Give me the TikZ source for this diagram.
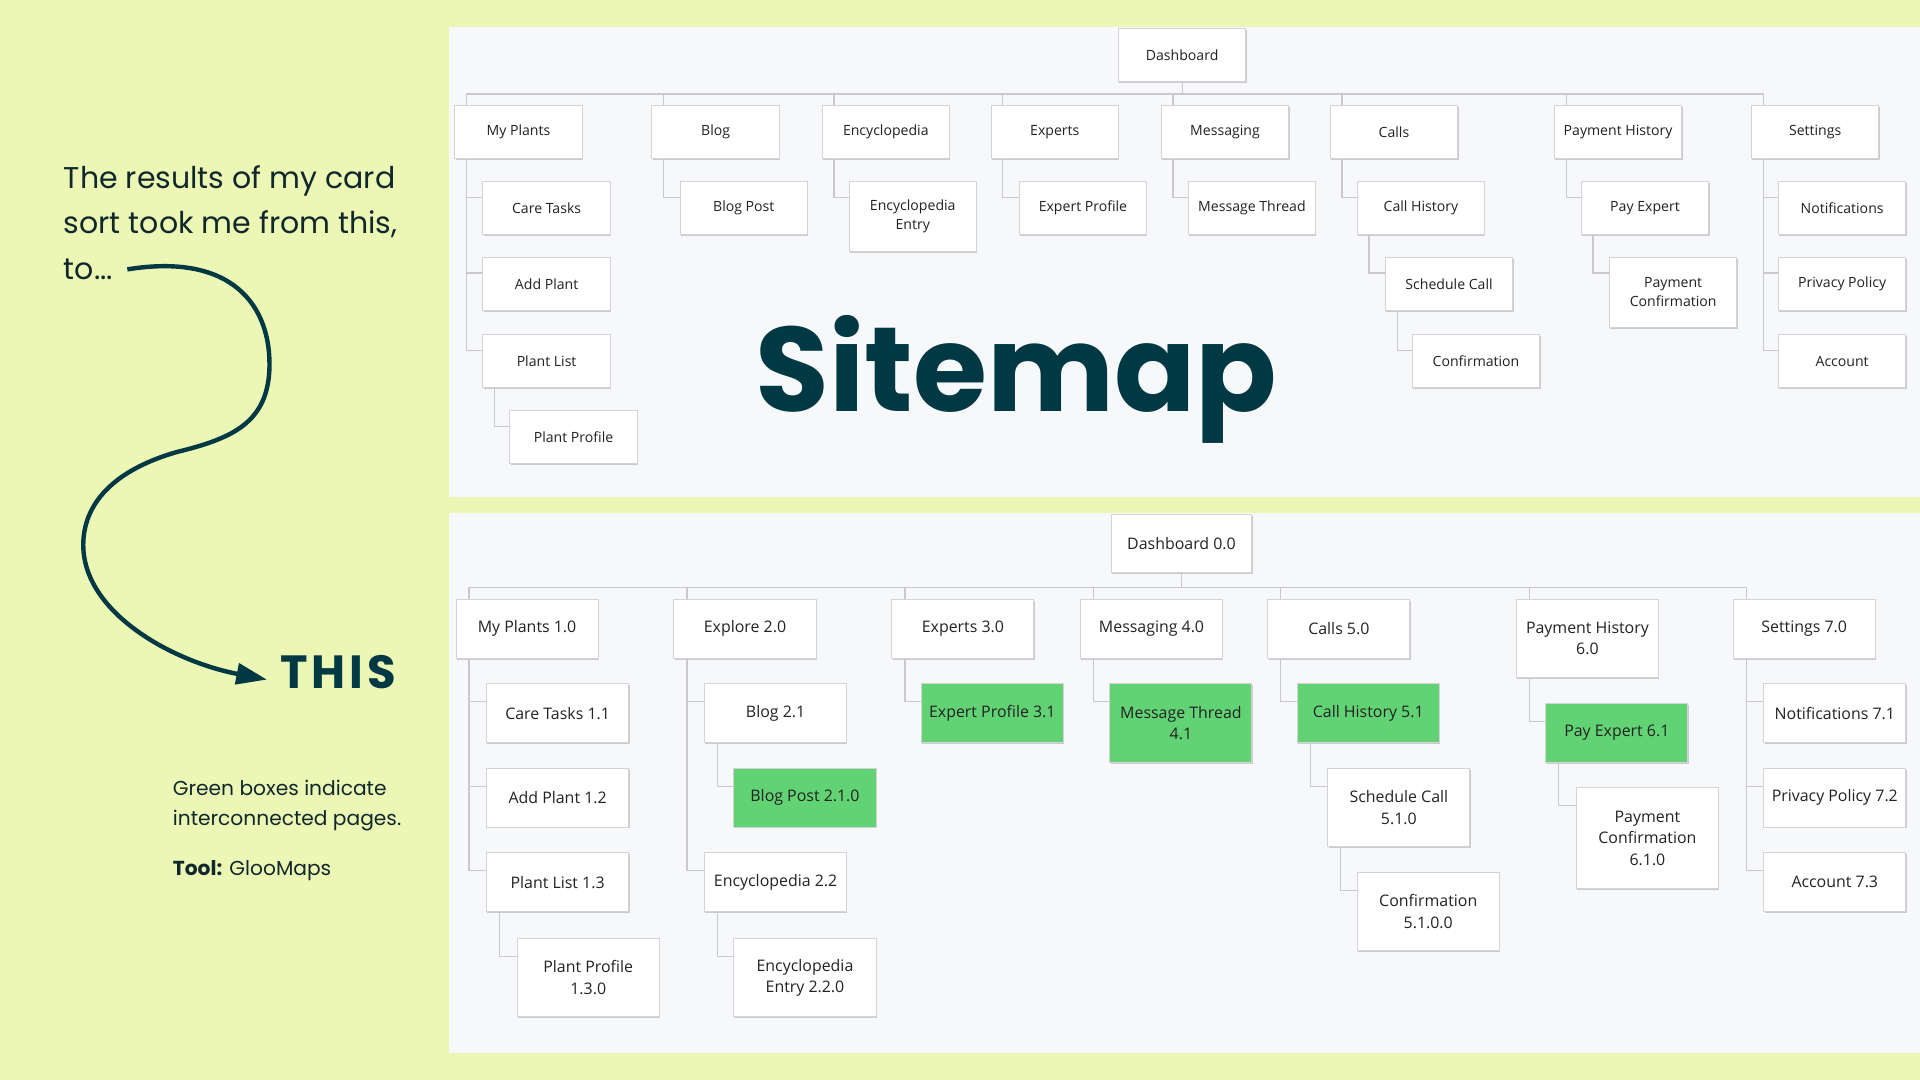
\documentclass[tikz,border=0pt]{standalone}
\usepackage{fontspec}
\setmainfont{Open Sans}
\newfontfamily\pop{Poppins}
\newfontfamily\popsp[LetterSpace=8]{Poppins}
\usetikzlibrary{arrows.meta,shadows}
\definecolor{bgc}{RGB}{236,247,181}
\definecolor{panelc}{RGB}{247,248,250}
\definecolor{linec}{RGB}{200,200,205}
\definecolor{boxc}{RGB}{212,212,216}
\definecolor{greenc}{RGB}{98,211,116}
\definecolor{teal}{RGB}{0,56,68}
\definecolor{darkt}{RGB}{16,40,44}
\definecolor{boxt}{RGB}{34,34,34}
\tikzset{
  boxbase/.style={draw=boxc, fill=white, line width=0.8pt, anchor=north west, inner sep=2pt,
    align=center, text=boxt,
    drop shadow={shadow xshift=0.7pt, shadow yshift=-1.2pt, opacity=0.18, fill=black}},
  tb/.style={boxbase, minimum width=104pt, minimum height=43pt, font=\fontsize{11.5}{15.5}\selectfont},
  tbb/.style={tb, minimum height=57pt},
  bb/.style={boxbase, minimum width=116pt, minimum height=48pt, font=\fontsize{13}{17.5}\selectfont},
  bbb/.style={bb, minimum height=64pt},
  bbc/.style={bb, minimum height=82pt},
  grn/.style={fill=greenc},
  ln/.style={draw=linec, line width=1pt},
  lefttxt/.style={anchor=base west, text=darkt, inner sep=0pt},
}
\begin{document}
\begin{tikzpicture}[x=1pt,y=-1pt]
\fill[bgc] (0,0) rectangle (1568,882);
\useasboundingbox (0,0) rectangle (1568,882);
\fill[panelc] (367,22) rectangle (1568,406);
\fill[panelc] (367,419) rectangle (1568,860);

% ---------- top sitemap ----------
\node[tb] (d) at (913,23) {Dashboard};
\node[tb] (mp) at (371,86) {My Plants};
\node[tb] (bl) at (532,86) {Blog};
\node[tb] (en) at (671,86) {Encyclopedia};
\node[tb] (ex) at (809,86) {Experts};
\node[tb] (me) at (948,86) {Messaging};
\node[tb] (ca) at (1086,86) {Calls};
\node[tb] (ph) at (1269,86) {Payment History};
\node[tb] (se) at (1430,86) {Settings};

\node[tb] (ct) at (394,148) {Care Tasks};
\node[tb] (ap) at (394,210) {Add Plant};
\node[tb] (pl) at (394,273) {Plant List};
\node[tb] (pp) at (416,335) {Plant Profile};
\node[tb] (bp) at (555,148) {Blog Post};
\node[tbb] (ee) at (693,148) {Encyclopedia\\Entry};
\node[tb] (ep) at (832,148) {Expert Profile};
\node[tb] (mt) at (970,148) {Message Thread};
\node[tb] (ch) at (1108,148) {Call History};
\node[tb] (sc) at (1131,210) {Schedule Call};
\node[tb] (cf) at (1153,273) {Confirmation};
\node[tb] (pe) at (1291,148) {Pay Expert};
\node[tbb] (pc) at (1314,210) {Payment\\Confirmation};
\node[tb] (nt) at (1452,148) {Notifications};
\node[tb] (pv) at (1452,210) {Privacy Policy};
\node[tb] (ac) at (1452,273) {Account};

\foreach \n in {mp,bl,en,ex,me,ca,ph,se}
  \draw[ln] (d.south) -- ++(0,10) -| ([xshift=10pt]\n.north west);
\foreach \p/\c in {mp/ct,mp/ap,mp/pl,pl/pp,bl/bp,en/ee,ex/ep,me/mt,ca/ch,ch/sc,sc/cf,ph/pe,pe/pc,se/nt,se/pv,se/ac}
  \draw[ln] ([xshift=10pt]\p.south west) |- ([yshift=-13pt]\c.north west);

\node[anchor=base, text=teal, inner sep=0pt, font=\pop\bfseries\fontsize{98}{102}\selectfont] (title) at (830,336) {Sitemap};

% ---------- bottom sitemap ----------
\node[bb, minimum width=115pt, minimum height=47pt] (D) at (907,420) {Dashboard 0.0};
\node[bb] (MP) at (372,489) {My Plants 1.0};
\node[bb] (EX) at (550,489) {Explore 2.0};
\node[bb] (XP) at (728,489) {Experts 3.0};
\node[bb] (ME) at (882,489) {Messaging 4.0};
\node[bb] (CA) at (1035,489) {Calls 5.0};
\node[bbb] (PH) at (1238,489) {Payment History\\6.0};
\node[bb] (SE) at (1415,489) {Settings 7.0};

\node[bb] (CT) at (397,558) {Care Tasks 1.1};
\node[bb] (AP) at (397,627) {Add Plant 1.2};
\node[bb] (PL) at (397,696) {Plant List 1.3};
\node[bbb] (PP) at (422,766) {Plant Profile\\1.3.0};
\node[bb] (BL) at (575,558) {Blog 2.1};
\node[bb,grn] (BP) at (599,627) {Blog Post 2.1.0};
\node[bb] (EN) at (575,696) {Encyclopedia 2.2};
\node[bbb] (EE) at (599,766) {Encyclopedia\\Entry 2.2.0};
\node[bb,grn] (EP) at (752,558) {Expert Profile 3.1};
\node[bbb,grn] (MT) at (906,558) {Message Thread\\4.1};
\node[bb,grn] (CH) at (1059,558) {Call History 5.1};
\node[bbb] (SC) at (1084,627) {Schedule Call\\5.1.0};
\node[bbb] (CF) at (1108,712) {Confirmation\\5.1.0.0};
\node[bb,grn] (PE) at (1262,574) {Pay Expert 6.1};
\node[bbc] (PC) at (1287,643) {Payment\\Confirmation\\6.1.0};
\node[bb] (NT) at (1440,558) {Notifications 7.1};
\node[bb] (PV) at (1440,627) {Privacy Policy 7.2};
\node[bb] (AC) at (1440,696) {Account 7.3};

\foreach \n in {MP,EX,XP,ME,CA,PH,SE}
  \draw[ln] (D.south) -- ++(0,12) -| ([xshift=11pt]\n.north west);
\foreach \p/\c in {MP/CT,MP/AP,MP/PL,PL/PP,EX/BL,BL/BP,EX/EN,EN/EE,XP/EP,ME/MT,CA/CH,CH/SC,SC/CF,PH/PE,PE/PC,SE/NT,SE/PV,SE/AC}
  \draw[ln] ([xshift=11pt]\p.south west) |- ([yshift=-15pt]\c.north west);

% ---------- left texts ----------
\node[lefttxt, font=\pop\fontsize{24.5}{30}\selectfont] (l1) at (52,154) {The results of my card};
\node[lefttxt, font=\pop\fontsize{24.5}{30}\selectfont] (l2) at (52,191) {sort took me from this,};
\node[lefttxt, font=\pop\fontsize{24.5}{30}\selectfont] (l3) at (52,228) {to...};
\node[lefttxt, text=teal, font=\popsp\bfseries\fontsize{38}{40}\selectfont] (this) at (229,562) {THIS};
\node[lefttxt, font=\pop\fontsize{16.5}{20}\selectfont] (g1) at (141,650) {Green boxes indicate};
\node[lefttxt, font=\pop\fontsize{16.5}{20}\selectfont] (g2) at (141,674) {interconnected pages.};
\node[lefttxt, font=\pop\fontsize{16.5}{20}\selectfont] (g3) at (141,715) {\textbf{Tool:} GlooMaps};

\coordinate (cs) at (104,220);
\coordinate (ce) at (218,555);
\draw[teal, line width=3.6pt, -{Triangle[length=25pt,width=17pt]}]
  (cs) .. controls (190,206) and (222,250) .. (220,302)
       .. controls (218,345) and (190,358) .. (145,369)
       .. controls (92,384) and (68,412) .. (68,445)
       .. controls (68,500) and (140,540) .. (ce);
\end{tikzpicture}
\end{document}
